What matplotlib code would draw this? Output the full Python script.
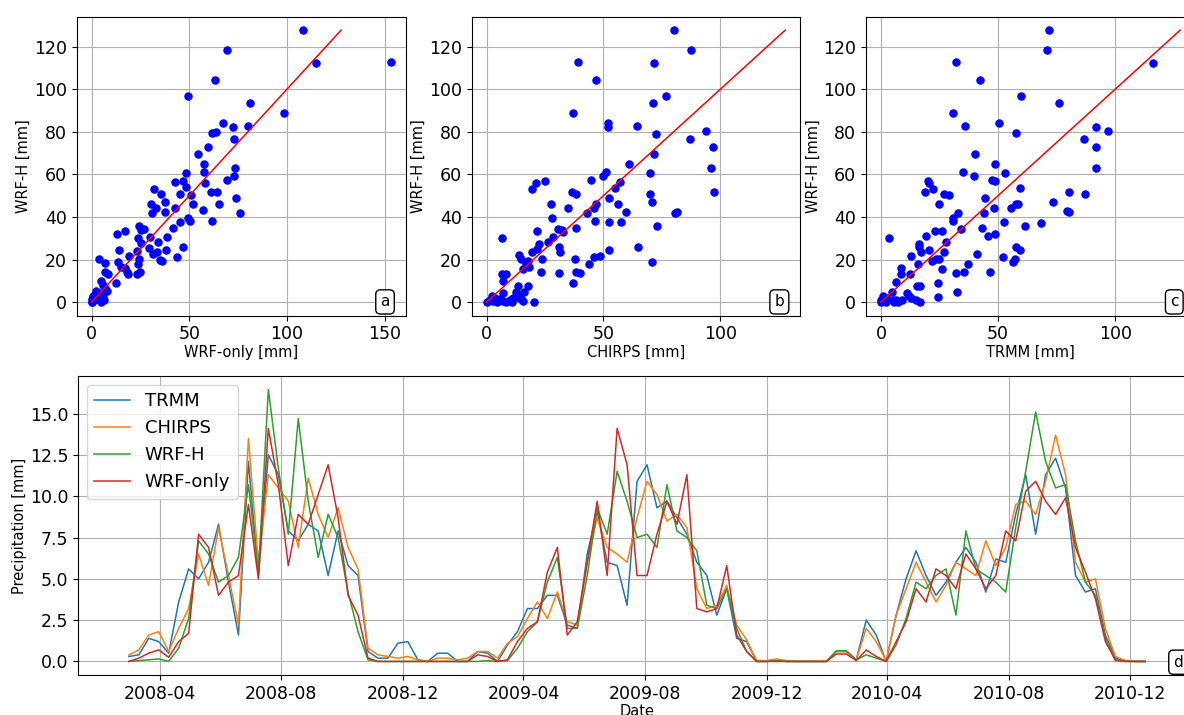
import matplotlib
matplotlib.use("Agg")
import matplotlib.pyplot as plt
import matplotlib.dates as mdates
from matplotlib.ticker import MultipleLocator
import numpy as np
import pandas as pd

# ---- scatter data ----
wrf_only = [108.4, 69.1, 114.7, 153.2, 63.2, 49.2, 81.0, 98.5, 67.5, 72.3, 80.3, 61.5, 63.8, 72.8,
            59.8, 54.5, 57.6, 57.4, 73.5, 72.8, 48.4, 47.0, 42.9, 69.2, 57.8, 48.4, 32.0, 35.6, 45.0,
            51.1, 60.9, 64.1, 73.8, 37.8, 30.3, 51.9, 65.1, 33.0, 42.9, 31.0, 37.4, 57.1, 76.1, 49.4,
            50.6, 45.0, 61.7, 24.4, 25.5, 26.8, 16.9, 12.8, 41.4, 30.1, 38.8, 23.6, 25.5, 34.0, 29.4,
            47.0, 14.2, 33.7, 23.1, 31.3, 38.3, 19.0, 43.9, 3.6, 24.1, 35.2, 36.1, 6.8, 13.3, 15.2,
            16.9, 23.9, 17.9, 18.6, 23.4, 25.0, 6.7, 8.4, 12.5, 5.0, 5.6, 8.0, 7.0,
            0.5, 1.4, 2.2, 0.2, 3.1, 4.8, 5.6, 6.5, 1.9, 3.9, 0.0, 0.0]
wrf_h_a = [127.7, 118.6, 112.3, 112.8, 104.1, 96.9, 93.3, 88.6, 83.9, 82.3, 82.5, 79.2, 80.0, 76.4,
           73.0, 69.7, 65.0, 61.1, 62.8, 59.4, 60.6, 56.9, 56.6, 57.5, 55.8, 53.9, 53.1, 50.8, 50.6,
           50.2, 51.9, 51.9, 49.1, 47.2, 46.3, 46.1, 45.9, 44.4, 44.1, 41.9, 42.3, 43.1, 42.0, 39.5,
           38.0, 37.5, 38.3, 35.8, 33.8, 34.5, 33.4, 32.2, 34.7, 30.8, 30.8, 30.2, 27.7, 28.1, 25.6,
           25.8, 24.7, 23.6, 23.8, 22.7, 24.4, 21.7, 21.4, 20.2, 20.2, 19.8, 19.2, 18.3, 18.6, 16.7,
           15.8, 17.7, 13.9, 13.3, 13.3, 14.2, 14.2, 13.3, 8.75, 9.7, 8.0, 5.0, 6.4,
           2.7, 1.1, 5.0, 0.0, 1.9, 0.0, 2.7, 1.1, 3.4, 4.2, 0.0, 1.4]

chirps = [80.3, 87.6, 39.1, 71.4, 46.7, 76.6, 71.0, 36.8, 51.8, 51.8, 64.2, 94.0, 72.3, 87.1, 97.0,
          71.5, 60.9, 96.2, 51.1, 50.0, 69.9, 21.0, 25.0, 44.6, 56.9, 19.6, 36.6, 38.4, 54.8, 70.0,
          97.3, 52.4, 27.4, 70.6, 47.0, 56.1, 34.7, 45.9, 43.0, 59.7, 81.3, 80.8, 28.1, 46.3, 52.3,
          57.7, 72.7, 30.4, 38.4, 21.6, 32.1, 32.8, 28.4, 6.5, 26.3, 22.2, 31.0, 21.7, 31.5, 19.5,
          52.3, 64.8, 48.7, 13.9, 46.0, 14.6, 23.7, 37.6, 17.6, 70.7, 17.0, 15.6, 18.0, 44.0, 23.2,
          30.8, 38.4, 40.1, 6.4, 8.4, 6.8, 36.8, 13.6, 17.5, 7.2, 12.5, 15.9, 13.9, 20.2,
          0.0, 1.4, 2.1, 2.8, 4.3, 5.7, 7.1, 8.5, 9.9, 11.4, 12.8, 14.9, 15.6, 10.7, 3.6]
wrf_h_b = [127.7, 118.6, 112.8, 112.3, 104.1, 96.9, 93.3, 88.6, 83.9, 82.3, 82.5, 80.2, 79.1, 76.4,
           73.0, 69.7, 65.0, 62.8, 61.1, 59.4, 60.6, 55.8, 57.0, 57.5, 56.6, 53.1, 51.9, 50.6, 53.8,
           50.8, 51.7, 49.1, 46.3, 47.2, 45.9, 46.1, 44.4, 44.1, 41.9, 42.3, 42.3, 41.7, 39.5, 38.3,
           37.5, 37.7, 35.8, 34.5, 34.7, 33.6, 33.8, 33.1, 30.8, 30.3, 28.3, 27.5, 25.9, 24.8, 23.6,
           23.6, 24.5, 25.8, 21.6, 21.9, 21.4, 20.2, 20.2, 20.2, 19.5, 18.6, 18.0, 15.5, 16.3, 17.7,
           13.9, 13.6, 14.2, 13.6, 13.3, 13.1, 9.7, 8.9, 7.7, 7.7, 4.5, 4.7, 4.8, 3.4, 0.0,
           0.0, 1.1, 3.0, 0.6, 0.0, 1.4, 0.3, 0.0, 0.8, 1.7, 2.3, 1.4, 0.6, 0.0, 1.9]

trmm_pts = [71.8, 70.8, 32.1, 116.2, 42.1, 59.9, 76.0, 30.6, 35.7, 50.6, 92.0, 97.0, 57.6, 86.6,
            92.0, 40.0, 48.8, 92.0, 35.1, 52.9, 39.7, 20.2, 20.5, 47.4, 48.6, 22.3, 18.9, 59.2, 80.4,
            87.1, 27.0, 28.9, 44.5, 25.0, 73.3, 57.6, 58.6, 48.1, 55.6, 33.1, 44.2, 79.5, 80.1, 30.9,
            30.7, 52.5, 68.4, 61.7, 34.3, 43.0, 23.1, 26.0, 45.8, 48.5, 19.2, 3.3, 27.7, 16.4, 16.4,
            27.0, 17.3, 20.7, 57.8, 59.2, 41.0, 12.8, 52.1, 23.5, 24.9, 21.8, 57.2, 56.2, 37.0, 15.9,
            8.7, 26.2, 8.7, 12.4, 32.1, 35.4, 46.5, 6.3, 15.6, 16.5, 24.2, 4.8, 11.1, 32.3, 12.1,
            24.2, 12.8, 14.9, 16.6, 9.2,
            0.0, 0.7, 1.4, 2.1, 2.8, 5.0, 5.7, 6.4, 7.1, 0.0]
wrf_h_c = [127.7, 118.6, 112.8, 112.3, 104.1, 96.9, 93.3, 88.6, 82.5, 83.9, 82.3, 80.2, 79.2, 76.4,
           73.0, 69.7, 65.0, 63.0, 61.1, 60.5, 59.4, 57.0, 55.9, 57.5, 56.7, 53.1, 51.9, 53.8, 51.7,
           50.8, 50.8, 50.2, 49.1, 46.3, 47.2, 45.9, 45.9, 44.1, 44.2, 41.9, 42.0, 43.0, 42.2, 39.5,
           38.3, 37.7, 37.3, 35.8, 34.5, 34.7, 33.6, 33.4, 30.9, 32.0, 30.9, 30.3, 28.1, 27.3, 25.9,
           23.6, 23.4, 24.7, 25.8, 24.4, 22.5, 21.7, 21.4, 20.2, 20.2, 19.2, 20.2, 18.8, 18.1, 17.7,
           16.1, 15.5, 13.1, 13.4, 13.6, 14.1, 13.9, 9.5, 7.7, 7.5, 8.75, 4.7, 4.5, 4.8, 3.0,
           2.3, 1.7, 1.1, 0.0, 1.1,
           0.0, 2.7, 1.1, 0.0, 1.9, 0.8, 0.0, 1.1, 0.0, 0.8]

# ---- time series (10-day samples) ----
dates = pd.date_range("2008-03-01", periods=103, freq="10D")
trmm = [0.3, 0.4, 1.4, 1.2, 0.5, 3.6, 5.6, 5.0, 6.0, 8.3, 4.8, 1.6, 12.1, 5.2, 12.5, 11.3, 7.9,
        7.3, 8.3, 7.9, 5.2, 7.9, 5.8, 5.2, 0.6, 0.2, 0.2, 1.1, 1.2, 0.1, 0.0, 0.5, 0.5, 0.0, 0.0,
        0.6, 0.5, 0.0, 1.0, 1.8, 3.2, 3.2, 4.0, 4.0, 2.2, 2.0, 6.5, 9.1, 6.0, 5.8, 3.4, 10.9, 11.9,
        9.3, 9.7, 8.7, 7.7, 6.0, 5.2, 2.8, 4.4, 1.4, 1.2, 0.0, 0.0, 0.05, 0.0, 0.0, 0.0, 0.0, 0.0,
        0.6, 0.6, 0.1, 2.5, 1.6, 0.0, 2.8, 5.0, 6.7, 5.2, 4.0, 4.8, 6.0, 6.9, 6.0, 4.2, 6.2, 6.0,
        8.9, 11.3, 7.7, 11.3, 12.3, 10.5, 5.2, 4.2, 4.4, 1.6, 0.2, 0.05, 0.0, 0.0]
chirps_ts = [0.4, 0.7, 1.6, 1.8, 0.6, 2.0, 3.2, 6.5, 4.6, 8.1, 5.2, 2.2, 13.5, 6.0, 11.3, 10.5,
             9.7, 6.9, 11.1, 8.9, 7.5, 9.3, 6.9, 5.6, 0.8, 0.4, 0.3, 0.2, 0.3, 0.1, 0.0, 0.2, 0.2,
             0.1, 0.2, 0.6, 0.6, 0.2, 1.1, 1.5, 2.6, 3.6, 2.6, 4.2, 2.4, 2.2, 6.0, 8.7, 6.9, 6.5,
             6.0, 8.7, 10.9, 10.1, 8.5, 8.9, 8.1, 4.4, 3.2, 3.4, 4.6, 2.2, 1.3, 0.05, 0.05, 0.15,
             0.05, 0.0, 0.0, 0.0, 0.0, 0.6, 0.6, 0.1, 2.0, 1.2, 0.05, 2.8, 4.4, 6.0, 4.8, 3.6, 4.6,
             6.0, 5.6, 5.2, 7.3, 5.8, 6.9, 9.5, 9.7, 8.9, 10.9, 13.7, 11.3, 6.0, 4.8, 5.0, 2.0,
             0.3, 0.05, 0.0, 0.0]
wrf_h_ts = [0.0, 0.05, 0.1, 0.15, 0.0, 0.8, 2.6, 7.3, 6.5, 4.8, 5.2, 6.3, 10.7, 5.4, 16.45, 11.7,
            7.7, 14.7, 9.7, 6.3, 8.9, 7.5, 4.2, 1.8, 0.1, 0.0, 0.0, 0.0, 0.0, 0.0, 0.0, 0.0, 0.0,
            0.0, 0.0, 0.0, 0.05, 0.0, 0.05, 0.8, 1.8, 2.4, 4.8, 6.3, 2.0, 2.0, 5.2, 9.3, 7.7, 11.5,
            9.7, 7.5, 7.7, 6.9, 10.7, 7.9, 7.5, 6.7, 3.4, 3.2, 4.4, 2.0, 0.6, 0.0, 0.0, 0.05, 0.0,
            0.0, 0.0, 0.0, 0.0, 0.65, 0.65, 0.1, 0.4, 0.2, 0.0, 1.0, 2.6, 4.8, 4.4, 5.2, 5.6, 2.8,
            7.9, 5.6, 5.2, 4.8, 4.2, 8.1, 11.5, 15.1, 12.1, 10.5, 10.7, 7.3, 4.8, 4.0, 1.4, 0.05,
            0.0, 0.0, 0.0]
wrf_only_ts = [0.0, 0.2, 0.5, 0.7, 0.25, 1.2, 1.7, 7.7, 6.9, 4.0, 4.8, 5.2, 9.5, 5.0, 14.1, 10.7,
               5.8, 8.9, 8.3, 10.1, 11.9, 8.7, 4.0, 2.8, 0.2, 0.0, 0.0, 0.0, 0.0, 0.0, 0.0, 0.0,
               0.0, 0.0, 0.0, 0.4, 0.3, 0.0, 0.1, 1.2, 2.0, 2.4, 5.4, 6.9, 1.6, 2.4, 6.0, 9.7, 5.2,
               14.1, 11.9, 5.2, 5.2, 7.7, 9.7, 8.3, 11.3, 3.2, 3.0, 3.2, 5.8, 1.6, 0.6, 0.0, 0.0,
               0.0, 0.0, 0.0, 0.0, 0.0, 0.0, 0.45, 0.45, 0.05, 0.7, 0.3, 0.0, 1.2, 2.4, 4.4, 3.6,
               5.6, 5.2, 4.4, 6.5, 5.6, 4.4, 5.2, 7.9, 7.3, 10.3, 10.9, 9.7, 8.9, 9.9, 6.9, 5.4,
               3.8, 1.2, 0.1, 0.0, 0.0, 0.0]

TICK = 12.5
LAB = 10.5

fig = plt.figure(figsize=(11.84, 7.15), dpi=100)

panels = [
    ([0.0648, 0.5585, 0.2779, 0.4182], wrf_only, wrf_h_a, "WRF-only [mm]", "a"),
    ([0.3984, 0.5585, 0.2773, 0.4182], chirps, wrf_h_b, "CHIRPS [mm]", "b"),
    ([0.7314, 0.5585, 0.2779, 0.4182], trmm_pts, wrf_h_c, "TRMM [mm]", "c"),
]
for rect, xs, ys, xlabel, letter in panels:
    ax = fig.add_axes(rect)
    ax.scatter(xs, ys, s=26, color="blue", zorder=3)
    top = max(ys)
    ax.plot([0, top], [0, top], color="red", linewidth=1.1, zorder=4)
    ax.grid(True)
    ax.set_axisbelow(True)
    ax.set_xlabel(xlabel, fontsize=LAB, labelpad=1)
    ax.set_ylabel("WRF-H [mm]", fontsize=LAB, labelpad=2)
    ax.tick_params(labelsize=TICK)
    ax.xaxis.set_major_locator(MultipleLocator(50))
    ax.set_yticks(np.arange(0, 121, 20))
    ax.text(0.937, 0.046, letter, transform=ax.transAxes, ha="center", va="center",
            fontsize=11, bbox=dict(boxstyle="round", facecolor="white", edgecolor="black"))

ax = fig.add_axes([0.0659, 0.0559, 0.9443, 0.4182])
ax.plot(dates, trmm, color="C0", linewidth=1.1, label="TRMM")
ax.plot(dates, chirps_ts, color="C1", linewidth=1.1, label="CHIRPS")
ax.plot(dates, wrf_h_ts, color="C2", linewidth=1.1, label="WRF-H")
ax.plot(dates, wrf_only_ts, color="C3", linewidth=1.1, label="WRF-only")
ax.xaxis.set_major_locator(mdates.MonthLocator(bymonth=(4, 8, 12)))
ax.xaxis.set_major_formatter(mdates.DateFormatter("%Y-%m"))
ax.set_yticks(np.arange(0, 15.1, 2.5))
ax.grid(True)
ax.tick_params(labelsize=TICK)
ax.set_xlabel("Date", fontsize=LAB, labelpad=1)
ax.set_ylabel("Precipitation [mm]", fontsize=LAB, labelpad=2)
ax.legend(loc="upper left", fontsize=13)
ax.text(0.984, 0.043, "d", transform=ax.transAxes, ha="center", va="center",
        fontsize=11, bbox=dict(boxstyle="round", facecolor="white", edgecolor="black"))

fig.savefig("out.png", dpi=100)
